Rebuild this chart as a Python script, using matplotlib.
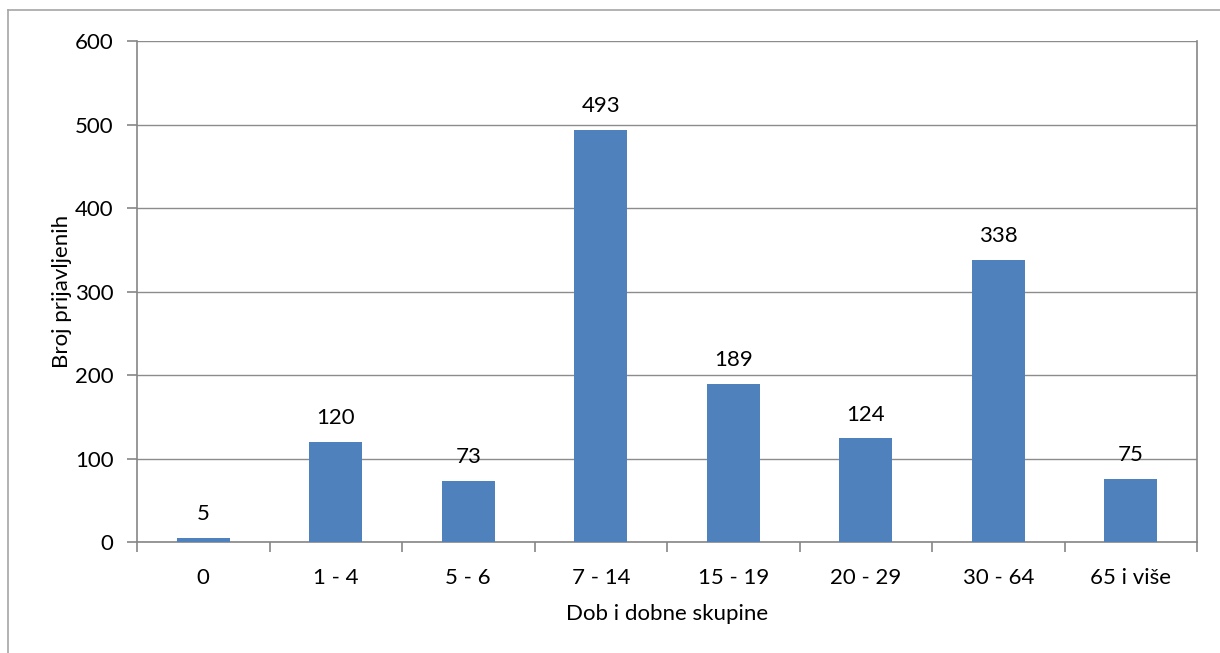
import matplotlib.pyplot as plt
from matplotlib.lines import Line2D

categories = ['0', '1 - 4', '5 - 6', '7 - 14', '15 - 19', '20 - 29', '30 - 64', '65 i više']
values = [5, 120, 73, 493, 189, 124, 338, 75]
y_ticks = [0, 100, 200, 300, 400, 500, 600]

plt.rcParams['font.family'] = ['Lato', 'DejaVu Sans']
FS = 16

fig = plt.figure(figsize=(12.2, 6.53), dpi=100)
ax = fig.add_axes([137 / 1220, 1 - 542 / 653, (1197 - 137) / 1220, (542 - 41) / 653])

x = range(len(categories))
ax.bar(x, values, width=0.4, color='#4F81BD', zorder=3)
for xi, v in zip(x, values):
    ax.annotate(str(v), (xi, v), xytext=(0, 10), textcoords='offset points',
                ha='center', va='bottom', fontsize=FS)

ax.set_xlim(-0.5, len(categories) - 0.5)
ax.set_ylim(0, 600)
ax.set_yticks(y_ticks)
ax.yaxis.grid(True, color='#8c8c8c', linewidth=1)
ax.set_axisbelow(True)

ax.set_xticks([i + 0.5 for i in range(-1, len(categories))])
ax.set_xticklabels([])
ax.set_xticks(list(x), minor=True)
ax.set_xticklabels(categories, minor=True, fontsize=FS)
ax.tick_params(axis='x', which='minor', length=0, pad=19)
ax.tick_params(axis='x', which='major', length=7, color='#868686', width=1.2)
ax.tick_params(axis='y', length=7, color='#868686', width=1.2, labelsize=FS, pad=10)

for side in ['left', 'bottom', 'right']:
    ax.spines[side].set_color('#868686')
    ax.spines[side].set_linewidth(1.2)
ax.spines['top'].set_visible(False)

ax.set_ylabel('Broj prijavljenih', fontsize=FS, labelpad=2)
ax.set_xlabel('Dob i dobne skupine', fontsize=FS, labelpad=11)

# outer chart frame
fig.add_artist(Line2D([8 / 1220, 8 / 1220], [0, 1 - 10 / 653], transform=fig.transFigure,
                      color='#a6a6a6', linewidth=1.2))
fig.add_artist(Line2D([8 / 1220, 1], [1 - 10 / 653, 1 - 10 / 653], transform=fig.transFigure,
                      color='#a6a6a6', linewidth=1.2))

fig.savefig('out.png', dpi=100)
